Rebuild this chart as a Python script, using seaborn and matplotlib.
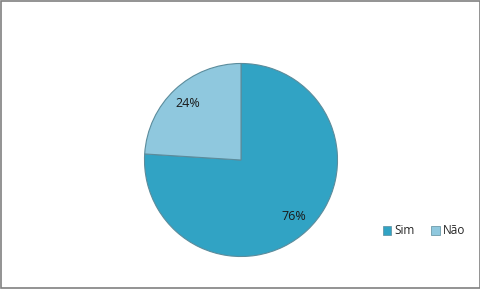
import matplotlib
matplotlib.use("Agg")
import matplotlib.pyplot as plt
import seaborn as sns
from matplotlib.patches import Rectangle, Patch

labels = ["Sim", "Não"]
values = [76, 24]
colors = ["#31A3C4", "#8FC8DE"]

sns.set_style("white")
plt.rcParams["font.family"] = ["Open Sans", "DejaVu Sans"]

W, H = 481, 289
fig = plt.figure(figsize=(W / 100, H / 100), dpi=100)
ax = fig.add_axes([(241 - 97) / W, (H - 257) / H, 194 / W, 194 / H])

wedges, texts, autotexts = ax.pie(
    values,
    colors=colors,
    startangle=90,
    counterclock=False,
    autopct="%d%%",
    pctdistance=0.8,
    wedgeprops={"edgecolor": "#5b8c9c", "linewidth": 0.8},
    textprops={"fontsize": 9, "color": "#1a1a1a"},
)
ax.set_xlim(-1.005, 1.005)
ax.set_ylim(-1.005, 1.005)
ax.set_aspect("equal")

handles = [Patch(facecolor=c, edgecolor="#5b8c9c", linewidth=0.5) for c in colors]
fig.legend(
    handles, labels,
    loc="center left",
    bbox_to_anchor=(372 / W, 1 - 231 / H),
    ncol=2,
    frameon=False,
    fontsize=8.5,
    handlelength=0.7,
    handleheight=0.7,
    handletextpad=0.3,
    columnspacing=1.4,
)

fig.patches.append(Rectangle((0.75 / W, 0.75 / H), 1 - 1.5 / W, 1 - 1.5 / H,
                             transform=fig.transFigure,
                             fill=False, edgecolor="#808080", linewidth=1.2))

fig.savefig("out.png", dpi=100)
plt.close(fig)
